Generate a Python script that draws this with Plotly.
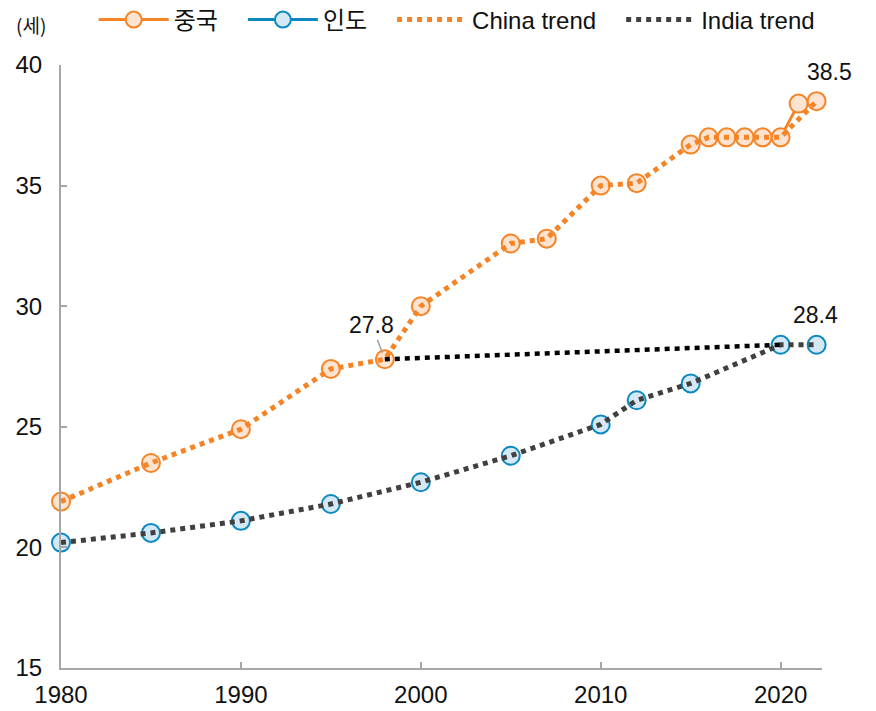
import plotly.graph_objects as go

# ---- data ----
china_years = [1980, 1985, 1990, 1995, 1998, 2000, 2005, 2007, 2010, 2012,
               2015, 2016, 2017, 2018, 2019, 2020, 2021, 2022]
china_age = [21.9, 23.5, 24.9, 27.4, 27.8, 30.0, 32.6, 32.8, 35.0, 35.1,
             36.7, 37.0, 37.0, 37.0, 37.0, 37.0, 38.4, 38.5]

india_years = [1980, 1985, 1990, 1995, 2000, 2005, 2010, 2012, 2015, 2020, 2022]
india_age = [20.2, 20.6, 21.1, 21.8, 22.7, 23.8, 25.1, 26.1, 26.8, 28.4, 28.4]

# trend lines (China trend skips 2021)
china_trend_years = [y for y in china_years if y != 2021]
china_trend_age = [a for y, a in zip(china_years, china_age) if y != 2021]
india_trend_years = india_years
india_trend_age = india_age

# comparison line: China 1998 vs India 2020
compare_years = [1998, 2020]
compare_age = [27.8, 28.4]

x_ticks = [1980, 1990, 2000, 2010, 2020]

ORANGE = "#F58426"
ORANGE_FILL = "#FDE3D0"
BLUE = "#0B89C0"
BLUE_FILL = "#D4E8F5"
DARK = "#404040"
AXIS = "#A6A6A6"
FONT = "Liberation Sans, Arial, Noto Sans CJK KR, sans-serif"
KFONT = "Noto Sans CJK KR, sans-serif"
PAD = "\u00a0" * 3


def annual(years, values):
    # annual series with gaps where no data, so only consecutive years join
    xs = list(range(years[0], years[-1] + 1))
    lookup = dict(zip(years, values))
    return xs, [lookup.get(x) for x in xs]


cx, cy = annual(china_years, china_age)
ix, iy = annual(india_years, india_age)

fig = go.Figure()

fig.add_trace(go.Scatter(
    x=cx, y=cy, name="중국" + PAD, mode="lines+markers", connectgaps=False,
    line=dict(color=ORANGE, width=3),
    marker=dict(size=18, color=ORANGE_FILL, line=dict(color=ORANGE, width=2)),
    cliponaxis=False))

fig.add_trace(go.Scatter(
    x=ix, y=iy, name="인도" + PAD, mode="lines+markers", connectgaps=False,
    line=dict(color=BLUE, width=3),
    marker=dict(size=18, color=BLUE_FILL, line=dict(color=BLUE, width=2)),
    cliponaxis=False))

fig.add_trace(go.Scatter(
    x=china_trend_years, y=china_trend_age, name="China trend" + PAD, mode="lines",
    line=dict(color=ORANGE, width=5, dash="5px,5px"), cliponaxis=False))

fig.add_trace(go.Scatter(
    x=india_trend_years, y=india_trend_age, name="India trend", mode="lines",
    line=dict(color=DARK, width=5, dash="5px,5px"), cliponaxis=False))

fig.add_trace(go.Scatter(
    x=compare_years, y=compare_age, mode="lines", showlegend=False,
    line=dict(color="#000000", width=4.5, dash="5px,5px"), hoverinfo="skip"))

# value labels
fig.add_annotation(x=1998, y=27.8, text="27.8", showarrow=True, arrowhead=0,
                   arrowcolor="#A0A0A0", arrowwidth=1.5, ax=-13, ay=-34,
                   standoff=7, font=dict(size=23, color="#111111", family=FONT))
fig.add_annotation(x=2022, y=38.5, text="38.5", showarrow=False,
                   xshift=13, yshift=29,
                   font=dict(size=23, color="#111111", family=FONT))
fig.add_annotation(x=2022, y=28.4, text="28.4", showarrow=False,
                   xshift=-1, yshift=30,
                   font=dict(size=23, color="#111111", family=FONT))

# unit label
fig.add_annotation(xref="paper", yref="paper", x=-0.062, y=1.093,
                   xanchor="left", yanchor="top", text="(세)",
                   showarrow=False, font=dict(size=19, color="#111111", family=KFONT))

# page body adds an 8px offset, so the figure is sized to the remaining view
fig.update_layout(
    width=868, height=703,
    margin=dict(l=53, r=54, t=57, b=43, autoexpand=False),
    paper_bgcolor="white", plot_bgcolor="white",
    font=dict(family=FONT, size=22, color="#111111"),
    legend=dict(orientation="h", x=0.043, xanchor="left", y=1.0746, yanchor="middle",
                itemwidth=70, font=dict(size=24, family=FONT),
                bgcolor="rgba(0,0,0,0)", tracegroupgap=0),
    showlegend=True,
)

fig.update_xaxes(
    range=[1980, 2022.3], tickvals=x_ticks, ticks="inside", ticklen=6,
    tickcolor=AXIS, tickwidth=1.5, showline=True, linecolor=AXIS, linewidth=2,
    showgrid=False, zeroline=False, tickfont=dict(size=24), ticklabelstandoff=4)

fig.update_yaxes(
    range=[15, 40], dtick=5, ticks="inside", ticklen=6,
    tickcolor=AXIS, tickwidth=1.5, showline=True, linecolor=AXIS, linewidth=2,
    showgrid=False, zeroline=False, tickfont=dict(size=24), ticklabelstandoff=12)

fig.write_html("out.html")
